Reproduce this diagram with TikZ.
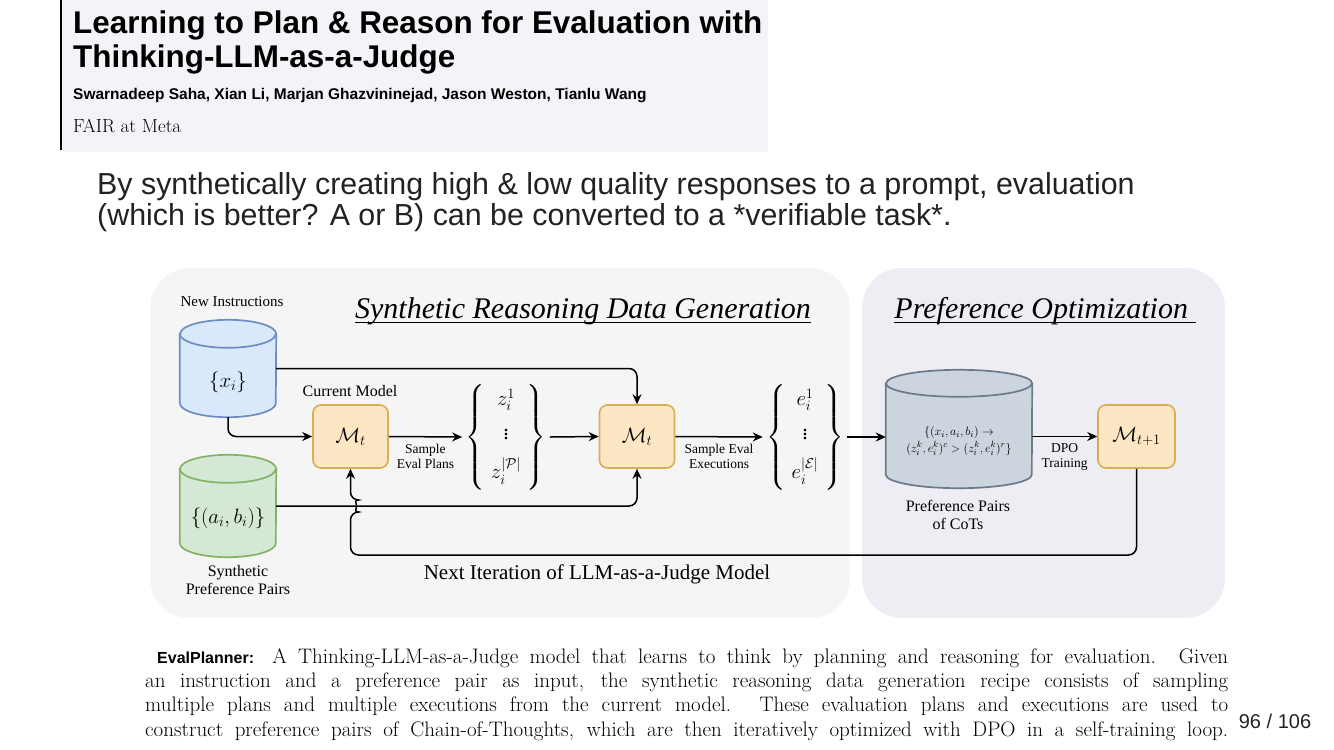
\documentclass[tikz,border=0pt]{standalone}
\usepackage{amsmath,amssymb}
\usepackage{fontspec}
\setmainfont{Liberation Serif}
\newfontfamily\slidesans{Liberation Sans}
\newfontfamily\lmroman{Latin Modern Roman}
\usetikzlibrary{shapes.geometric, arrows.meta, calc}

\definecolor{headergray}{HTML}{F3F4F8}
\definecolor{leftpanel}{HTML}{F5F5F5}
\definecolor{rightpanel}{HTML}{EEEDF4}
\definecolor{modelfill}{HTML}{FCE6C4}
\definecolor{modelborder}{HTML}{D6AE56}
\definecolor{bluefill}{HTML}{DAE8FC}
\definecolor{blueborder}{HTML}{6C8EBF}
\definecolor{greenfill}{HTML}{D5E8D4}
\definecolor{greenborder}{HTML}{82B366}
\definecolor{cotfill}{HTML}{CCD4DE}
\definecolor{cotborder}{HTML}{6A7B8C}
\definecolor{slidetext}{HTML}{222222}

% drum outline around a named node: name, x radius, y radius, colours
\newcommand{\drawstore}[4]{%
  \draw[#4] ($(#1.north west)+(0,#3)$) -- ($(#1.south west)+(0,-#3)$)
    arc[start angle=180, end angle=0, x radius=#2, y radius=#3]
    -- ($(#1.north east)+(0,#3)$)
    arc[start angle=0, end angle=-180, x radius=#2, y radius=#3] -- cycle;
  \draw[#4, fill=none] ($(#1.north west)+(0,#3)$)
    arc[start angle=180, end angle=0, x radius=#2, y radius=#3];
}

\begin{document}
\begin{tikzpicture}[x=1pt, y=-1pt,
            model/.style={rectangle, rounded corners=8pt, draw=modelborder, fill=modelfill, line width=1.6pt, minimum width=75pt, minimum height=63pt, font=\fontsize{22}{26}\selectfont},
            store/.style={rectangle, inner sep=0pt},
            storetext/.style={font=\fontsize{22}{26}\selectfont, align=center},
            arrow/.style={-{Stealth[length=10pt,width=9pt]}, line width=1.5pt},
            label/.style={font=\fontsize{16}{18}\selectfont, align=center},
            small/.style={font=\fontsize{13.5}{15}\selectfont, align=center},
            heading/.style={font=\fontsize{30}{34}\selectfont\itshape, anchor=base}
        ]
\useasboundingbox (0,0) rectangle (1334,750);

% Paper header
            \fill[headergray] (60,0) rectangle (768,152);
            \draw[line width=1.5pt] (61,0) -- (61,150);
            \node[anchor=base west, inner sep=0pt, font=\slidesans\bfseries\fontsize{31.4}{34}\selectfont] (title1) at (73,33) {Learning to Plan \& Reason for Evaluation with};
            \node[anchor=base west, inner sep=0pt, font=\slidesans\bfseries\fontsize{31.4}{34}\selectfont] (title2) at (73,67) {Thinking-LLM-as-a-Judge};
            \node[anchor=base west, inner sep=0pt, font=\slidesans\bfseries\fontsize{15.5}{17}\selectfont] (authors) at (73,99) {Swarnadeep Saha, Xian Li, Marjan Ghazvininejad, Jason Weston, Tianlu Wang};
            \node[anchor=base west, inner sep=0pt, font=\lmroman\fontsize{19}{21}\selectfont] (affil) at (73,132) {FAIR at Meta};

% Slide text
            \node[anchor=base west, inner sep=0pt, text=slidetext, font=\slidesans\fontsize{30.4}{31}\selectfont] (line1) at (97,194) {By synthetically creating high \& low quality responses to a prompt, evaluation};
            \node[anchor=base west, inner sep=0pt, text=slidetext, font=\slidesans\fontsize{30.4}{31}\selectfont] (line2) at (97,225) {(which is better? A or B) can be converted to a *verifiable task*.};

% Panels
            \fill[leftpanel, rounded corners=40pt] (150,268) rectangle (850,618);
            \fill[rightpanel, rounded corners=40pt] (862,268) rectangle (1225,618);
            \node[heading] (gentitle) at (583,318) {\underline{\smash{Synthetic Reasoning Data Generation}}};
            \node[heading] (potitle) at (1045,318) {\underline{\smash{Preference Optimization\ }}};

% Data stores
            \node[store, minimum width=96pt, minimum height=97pt] (instr) at (228,368.5) {};
            \node[store, minimum width=96pt, minimum height=102pt] (pairs) at (228,506) {};
            \node[store, minimum width=146pt, minimum height=118pt] (cots) at (959,429) {};
            \drawstore{instr}{48}{14}{draw=blueborder, fill=bluefill, line width=1.7pt}
            \drawstore{pairs}{48}{14}{draw=greenborder, fill=greenfill, line width=1.7pt}
            \drawstore{cots}{73}{13.5}{draw=cotborder, fill=cotfill, line width=1.7pt}
            \node[storetext] (instrtext) at ($(instr.center)+(0,14)$) {$\{x_i\}$};
            \node[storetext] (pairstext) at ($(pairs.center)+(0,12)$) {$\{(a_i,b_i)\}$};
            \node[storetext, font=\fontsize{12.5}{17}\selectfont] (cotstext) at ($(cots.center)+(0,12)$) {$\{(x_i,a_i,b_i)\rightarrow$\\$(z_i^k,e_i^k)^c>(z_i^k,e_i^k)^r\}$};
            \node[label, font=\fontsize{15}{17}\selectfont] (instrlabel) at (232,302) {New Instructions};
            \node[label] (pairslabel) at (238,580) {Synthetic\\Preference Pairs};
            \node[label] (cotslabel) at (958,515) {Preference Pairs\\of CoTs};

% Models
            \node[model] (mt1) at (350.5,436.5) {$\mathcal{M}_t$};
            \node[model] (mt2) at (637,436.5) {$\mathcal{M}_t$};
            \node[model, minimum width=77pt] (mtnext) at (1136.5,436.5) {$\mathcal{M}_{t+1}$};
            \node[label] (currentlabel) at (350,391) {Current Model};

% Sampled plans and executions
            \node[font=\fontsize{22}{26}\selectfont] (plans) at (506,437) {$\left\{\;\begin{matrix} z_i^1\\[8pt] \vdots\\[10pt] z_i^{|\mathcal{P}|}\end{matrix}\;\right\}$};
            \node[font=\fontsize{22}{26}\selectfont] (execs) at (805,437) {$\left\{\;\begin{matrix} e_i^1\\[8pt] \vdots\\[10pt] e_i^{|\mathcal{E}|}\end{matrix}\;\right\}$};

% Flow
            \draw[arrow, rounded corners=8pt] (instr.south) |- (mt1.west);
            \draw[arrow, rounded corners=8pt] (instr.east) -| (mt2.north);
            \draw[arrow, rounded corners=8pt] (pairs.east) -| (mt2.south);
            \draw[arrow] (mt1.east) -- node[small, below=3pt] {Sample\\Eval Plans} (plans.west);
            \draw[arrow] (plans.east) -- (mt2.west);
            \draw[arrow] (mt2.east) -- node[small, below=3pt] {Sample Eval\\Executions} (execs.west);
            \draw[arrow] (execs.east) -- (cots.west |- execs.east);
            \draw[arrow] (cots.east |- mtnext.west) -- node[small, below=3pt] {DPO\\Training} (mtnext.west);

% Next iteration loop
            \draw[arrow, rounded corners=8pt] (mtnext.south) -- (mtnext.south |- 0,555) -- (mt1.south |- 0,555) -- ($(mt1.south |- pairs.east)+(0,6)$) arc[start angle=90, end angle=-90, radius=6] -- (mt1.south);
            \node[font=\fontsize{21}{24}\selectfont] (looplabel) at (597,574) {Next Iteration of LLM-as-a-Judge Model};

% Caption
            \node[anchor=base west, inner sep=0pt, font=\lmroman\fontsize{21}{24}\selectfont] (cap1) at (157,663) {\makebox[1071pt][s]{{\slidesans\bfseries\fontsize{16}{18}\selectfont EvalPlanner:} A Thinking-LLM-as-a-Judge model that learns to think by planning and reasoning for evaluation. Given}};
            \node[anchor=base west, inner sep=0pt, font=\lmroman\fontsize{21}{24}\selectfont] (cap2) at (145,687) {\makebox[1083pt][s]{an instruction and a preference pair as input, the synthetic reasoning data generation recipe consists of sampling}};
            \node[anchor=base west, inner sep=0pt, font=\lmroman\fontsize{21}{24}\selectfont] (cap3) at (145,711) {\makebox[1083pt][s]{multiple plans and multiple executions from the current model. These evaluation plans and executions are used to}};
            \node[anchor=base west, inner sep=0pt, font=\lmroman\fontsize{21}{24}\selectfont] (cap4) at (145,736) {\makebox[1083pt][s]{construct preference pairs of Chain-of-Thoughts, which are then iteratively optimized with DPO in a self-training loop.}};
            \node[font=\slidesans\fontsize{20}{24}\selectfont, text=slidetext] (pagenum) at (1275,721) {96 / 106};

        \end{tikzpicture}
\end{document}
